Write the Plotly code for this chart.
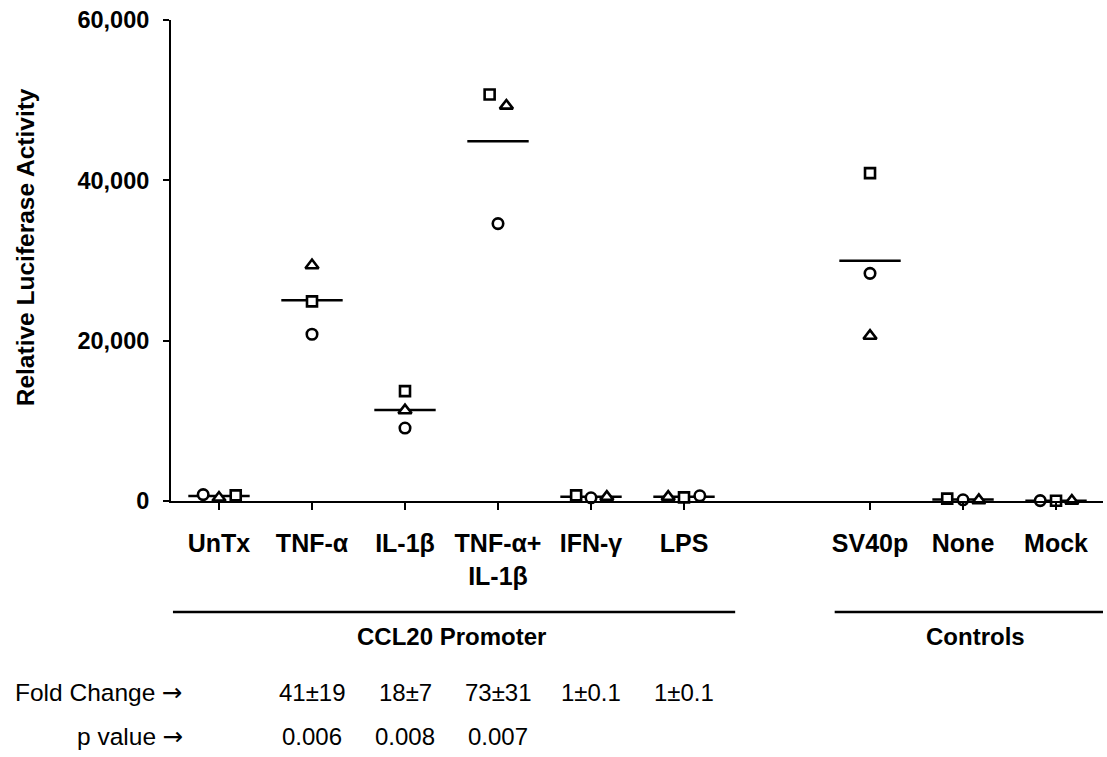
import numpy as np
import plotly.graph_objects as go

# ---------------- data ----------------
categories = ["UnTx", "TNF-α", "IL-1β", "TNF-α+<br>IL-1β", "IFN-γ", "LPS",
              "SV40p", "None", "Mock"]
circle_vals = [800, 20800, 9100, 34600, 400, 650, 28400, 150, 50]
triangle_vals = [400, 29400, 11300, 49300, 500, 500, 20600, 100, 30]
square_vals = [700, 24900, 13700, 50700, 700, 450, 40900, 300, 40]
y_ticks = [0, 20000, 40000, 60000]
y_tick_labels = ["0", "20,000", "40,000", "60,000"]
fold_change = ["", "41±19", "18±7", "73±31", "1±0.1", "1±0.1"]
p_values = ["", "0.006", "0.008", "0.007", "", ""]
group_names = ["CCL20 Promoter", "Controls"]
row_names = ["Fold Change", "p value"]

# ---------------- layout helpers ----------------
x_slots = [1, 2, 3, 4, 5, 6, 8, 9, 10]
circle_dx = [-0.17, 0, 0, 0, 0, 0.17, 0, 0, -0.17]
triangle_dx = [0, 0, 0, 0.09, 0.17, -0.17, 0, 0.17, 0.17]
square_dx = [0.18, 0, 0, -0.09, -0.16, 0, 0, -0.17, 0]
mean_halfwidth = 0.33

FONT = "Arial, Liberation Sans, sans-serif"
BLACK = "#000000"
ARROW = '<span style="font-family:DejaVu Sans">→</span>'

fig = go.Figure()

# mean lines
means = np.mean([circle_vals, triangle_vals, square_vals], axis=0)
mx, my = [], []
for xs, m in zip(x_slots, means):
    mx += [xs - mean_halfwidth, xs + mean_halfwidth, None]
    my += [m, m, None]
fig.add_trace(go.Scatter(x=mx, y=my, mode="lines",
                         line=dict(color=BLACK, width=2.5),
                         hoverinfo="skip", showlegend=False, cliponaxis=False))

def add_points(vals, dx, symbol, size):
    fig.add_trace(go.Scatter(
        x=[s + d for s, d in zip(x_slots, dx)], y=vals, mode="markers",
        marker=dict(symbol=symbol, size=size, color="rgba(255,255,255,1)",
                    line=dict(color=BLACK, width=2.6)),
        showlegend=False, cliponaxis=False))

add_points(circle_vals, circle_dx, "circle", 10.5)
add_points(triangle_vals, triangle_dx, "triangle-up", 11.5)
add_points(square_vals, square_dx, "square", 10)

L, R, T, B = 171, 4, 19.5, 256
W, H = 1107, 757
plot_h = H - T - B

def py(pix):
    return (H - B - pix) / plot_h

def font(size):
    return dict(family=FONT, size=size, color=BLACK)

annotations = []
# y axis title
annotations.append(dict(text="<b>Relative Luciferase Activity</b>", textangle=-90,
                        xref="paper", yref="paper", x=(25 - L) / (W - L - R), y=py(247),
                        xanchor="center", yanchor="middle", showarrow=False,
                        font=font(24.5)))
# group labels
annotations.append(dict(text="<b>%s</b>" % group_names[0], xref="x", yref="paper",
                        x=3.5, y=py(637), showarrow=False,
                        xanchor="center", yanchor="middle", font=font(24)))
annotations.append(dict(text="<b>%s</b>" % group_names[1], xref="x", yref="paper",
                        x=9.13, y=py(637), showarrow=False,
                        xanchor="center", yanchor="middle", font=font(24)))
# row labels
for name, ypix in zip(row_names, [693, 737]):
    annotations.append(dict(text="%s %s" % (name, ARROW), xref="x", yref="paper",
                            x=0.634, y=py(ypix),
                            xanchor="right", yanchor="middle", showarrow=False,
                            font=font(24.5)))
for i, (fc, pv) in enumerate(zip(fold_change, p_values)):
    if fc:
        annotations.append(dict(text=fc, xref="x", yref="paper", x=x_slots[i], y=py(693),
                                xanchor="center", yanchor="middle", showarrow=False,
                                font=font(24)))
    if pv:
        annotations.append(dict(text=pv, xref="x", yref="paper", x=x_slots[i], y=py(737),
                                xanchor="center", yanchor="middle", showarrow=False,
                                font=font(24)))

shapes = [
    dict(type="line", xref="x", yref="paper", x0=0.505, x1=6.55, y0=py(612), y1=py(612),
         line=dict(color=BLACK, width=2.5)),
    dict(type="line", xref="x", yref="paper", x0=7.62, x1=10.6, y0=py(612), y1=py(612),
         line=dict(color=BLACK, width=2.5)),
]

fig.update_layout(
    width=W, height=H,
    margin=dict(l=L, r=R, t=T, b=B, pad=0),
    paper_bgcolor="white", plot_bgcolor="white",
    font=dict(family=FONT, color=BLACK),
    annotations=annotations, shapes=shapes,
    xaxis=dict(range=[0.484, 10.505], tickvals=x_slots,
               ticktext=["<b>%s</b>" % c for c in categories],
               showgrid=False, zeroline=False, showline=True, linecolor=BLACK,
               linewidth=2, ticks="outside", ticklen=7, tickwidth=2, tickcolor=BLACK,
               tickfont=font(25), ticklabelstandoff=12, fixedrange=True),
    yaxis=dict(range=[0, 60000], tickvals=y_ticks, ticktext=["<b>%s</b>" % t for t in y_tick_labels],
               showgrid=False, zeroline=False, showline=True, linecolor=BLACK,
               linewidth=2, ticks="outside", ticklen=6, tickwidth=2, tickcolor=BLACK,
               tickfont=font(23.5), ticklabelstandoff=9, fixedrange=True),
)

fig.write_html("out.html")
